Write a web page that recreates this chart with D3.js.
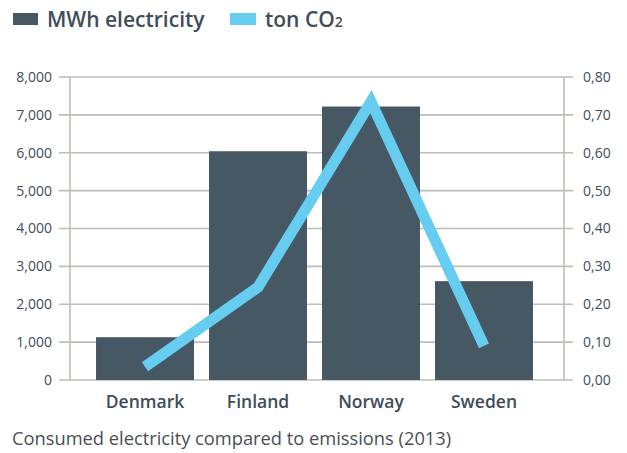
<!DOCTYPE html>
<html><head><meta charset="utf-8">
<script src="https://cdn.jsdelivr.net/npm/d3@7"></script>
<style>body{margin:0;background:#fff}svg{display:block}</style>
</head><body>
<svg id="c" width="627" height="453"></svg>
<script>
const categories = ["Denmark", "Finland", "Norway", "Sweden"];
const mwhValues = [1130, 6040, 7220, 2610];
const co2Values = [0.035, 0.245, 0.735, 0.09];
const leftTicks = [0, 1000, 2000, 3000, 4000, 5000, 6000, 7000, 8000];
const rightTicks = [0, 0.1, 0.2, 0.3, 0.4, 0.5, 0.6, 0.7, 0.8];
const legendLabels = ["MWh electricity", "ton CO"];
const caption = "Consumed electricity compared to emissions (2013)";

const font = "'Open Sans', sans-serif";
const textCol = "#3e4d5a";
const barCol = "#465864";
const lineCol = "#66cdf1";
const gridCol = "#b9c0b6";

const svg = d3.select("#c");
const x = d3.scaleBand().domain(categories).range([81, 548]).padding(0.133);
const yL = d3.scaleLinear().domain([0, 8000]).range([380, 77]);
const yR = d3.scaleLinear().domain([0, 0.8]).range([380, 77]);

// grid
svg.append("g").selectAll("line").data(leftTicks).join("line")
  .attr("x1", 59).attr("x2", 573)
  .attr("y1", d => yL(d)).attr("y2", d => yL(d))
  .attr("stroke", gridCol).attr("stroke-width", 1.6);
svg.append("line").attr("x1", 70).attr("x2", 70).attr("y1", yL(8000)).attr("y2", yL(0))
  .attr("stroke", gridCol).attr("stroke-width", 1.6);
svg.append("line").attr("x1", 564).attr("x2", 564).attr("y1", yL(8000)).attr("y2", yL(0))
  .attr("stroke", gridCol).attr("stroke-width", 1.6);

// tick labels
const fmtL = d3.format(",");
svg.append("g").selectAll("text").data(leftTicks).join("text")
  .attr("x", 52).attr("y", d => yL(d)).attr("dy", "0.35em")
  .attr("text-anchor", "end").attr("font-family", font).attr("font-size", 14)
  .attr("fill", textCol).text(d => fmtL(d));
svg.append("g").selectAll("text").data(rightTicks).join("text")
  .attr("x", 583).attr("y", d => yR(d)).attr("dy", "0.35em")
  .attr("font-family", font).attr("font-size", 14)
  .attr("fill", textCol).text(d => d.toFixed(2).replace(".", ","));

// bars
svg.append("g").selectAll("rect").data(categories).join("rect")
  .attr("x", d => x(d)).attr("width", x.bandwidth())
  .attr("y", (d, i) => yL(mwhValues[i])).attr("height", (d, i) => yL(0) - yL(mwhValues[i]))
  .attr("fill", barCol);

// line
const line = d3.line().x((d, i) => x(categories[i]) + x.bandwidth() / 2).y(d => yR(d));
svg.append("path").datum(co2Values).attr("d", line)
  .attr("fill", "none").attr("stroke", lineCol).attr("stroke-width", 11)
  .attr("stroke-linejoin", "miter").attr("stroke-miterlimit", 10);

// category labels
svg.append("g").selectAll("text").data(categories).join("text")
  .attr("x", d => x(d) + x.bandwidth() / 2).attr("y", 408)
  .attr("text-anchor", "middle").attr("font-family", font).attr("font-size", 17.5)
  .attr("font-weight", 600).attr("fill", textCol).text(d => d);

// legend
svg.append("rect").attr("x", 13).attr("y", 13).attr("width", 25).attr("height", 12).attr("fill", barCol);
svg.append("text").attr("x", 47).attr("y", 27).attr("font-family", font).attr("font-size", 21)
  .attr("font-weight", 600).attr("fill", textCol).text(legendLabels[0]);
svg.append("rect").attr("x", 230).attr("y", 13).attr("width", 26).attr("height", 12).attr("fill", lineCol);
const t2 = svg.append("text").attr("x", 265).attr("y", 27).attr("font-family", font).attr("font-size", 21)
  .attr("font-weight", 600).attr("fill", textCol);
t2.append("tspan").text(legendLabels[1]);
t2.append("tspan").attr("font-size", 14).text("2");

// caption
svg.append("text").attr("x", 12).attr("y", 445).attr("font-family", font).attr("font-size", 18.3)
  .attr("fill", "#4a4f55").text(caption);
</script>
</body></html>
